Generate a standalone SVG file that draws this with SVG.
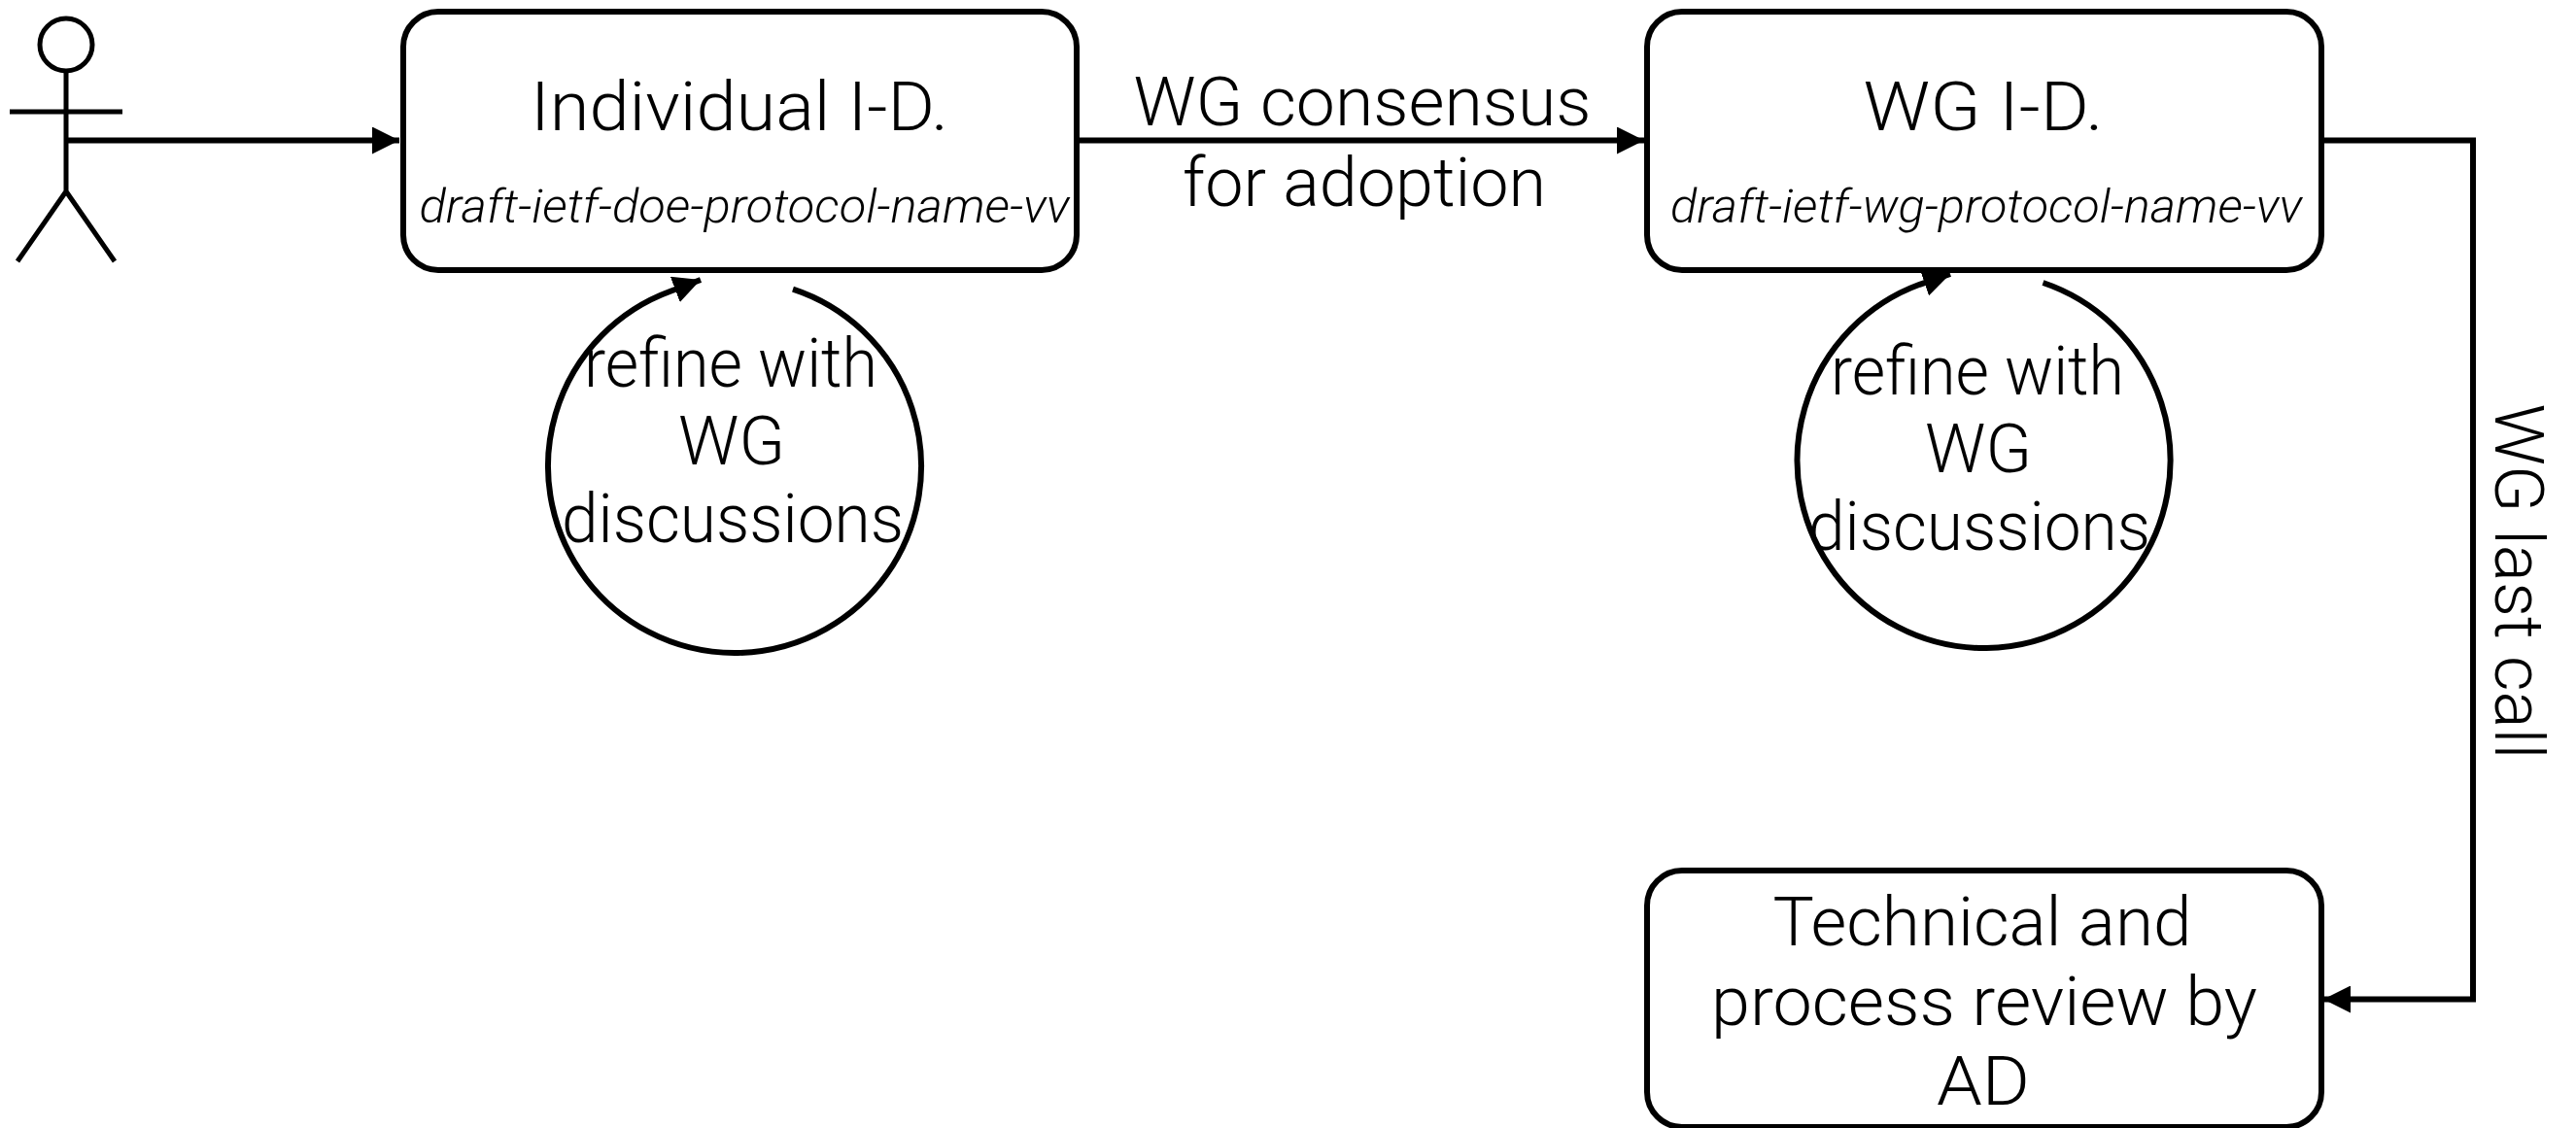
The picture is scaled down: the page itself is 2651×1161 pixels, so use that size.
<svg xmlns="http://www.w3.org/2000/svg" width="2651" height="1161" viewBox="0 0 2651 1161">
<style>
.n{fill:#fff;stroke:#000;stroke-width:6}
.c{fill:none;stroke:#000;stroke-width:6}
.a{fill:none;stroke:#000;stroke-width:5}
text{font-family:"Roboto","Liberation Sans",sans-serif;font-weight:300;fill:#000;text-anchor:middle}
.l{font-size:70px}
.d{font-size:48px;font-style:italic}
</style>
<defs>
<marker id="h" markerUnits="userSpaceOnUse" viewBox="0 0 28 28" markerWidth="28" markerHeight="28" refX="28" refY="14" orient="auto"><path d="M0 0L28 14L0 28Z" fill="#000"/></marker>
</defs>
<rect width="2651" height="1161" fill="#fff"/>
<g id="connectors">
<path class="c" d="M68 144.500H411" marker-end="url(#h)"/>
<path class="c" d="M1108 144.500H1692" marker-end="url(#h)"/>
<path class="c" d="M2389 144.500H2545V1028.500H2391" marker-end="url(#h)"/>
<path class="c" d="M816 297.600A192 192 0 1 1 690 299.700L721 288" marker-end="url(#h)"/>
<path class="c" d="M2102.500 291A192 193 0 1 1 1975.500 292.800L2007 282" marker-end="url(#h)"/>
</g>
<g id="actor"><ellipse class="a" cx="68" cy="46" rx="27" ry="27" fill="none"/><path class="a" d="M68 73V197M10 115H126M18 269L68 197L118 269"/></g>
<g id="individual-id"><rect class="n" x="415" y="12" width="693" height="266" rx="36"/>
<text class="l" x="761" y="134" textLength="430" lengthAdjust="spacingAndGlyphs">Individual I-D.</text>
<text class="d" x="766" y="229" textLength="669" lengthAdjust="spacingAndGlyphs">draft-ietf-doe-protocol-name-vv</text></g>
<g id="wg-id"><rect class="n" x="1695" y="12" width="694" height="266" rx="36"/>
<text class="l" x="2041" y="134" textLength="247" lengthAdjust="spacingAndGlyphs">WG I-D.</text>
<text class="d" x="2044" y="229" textLength="650" lengthAdjust="spacingAndGlyphs">draft-ietf-wg-protocol-name-vv</text></g>
<g id="review"><rect class="n" x="1695" y="896" width="694" height="264" rx="36"/>
<text class="l" x="2040" y="973" textLength="431" lengthAdjust="spacingAndGlyphs">Technical and</text>
<text class="l" x="2042" y="1055" textLength="562" lengthAdjust="spacingAndGlyphs">process review by</text>
<text class="l" x="2041" y="1137" textLength="96" lengthAdjust="spacingAndGlyphs">AD</text></g>
<g id="labels">
<text class="l" x="1402" y="129" textLength="471" lengthAdjust="spacingAndGlyphs">WG consensus</text>
<text class="l" x="1404" y="212" textLength="374" lengthAdjust="spacingAndGlyphs">for adoption</text>
<text class="l" x="752" y="398" textLength="302" lengthAdjust="spacingAndGlyphs">refine with</text>
<text class="l" x="753" y="478" textLength="110" lengthAdjust="spacingAndGlyphs">WG</text>
<text class="l" x="754" y="558" textLength="352" lengthAdjust="spacingAndGlyphs">discussions</text>
<text class="l" x="2035" y="406" textLength="302" lengthAdjust="spacingAndGlyphs">refine with</text>
<text class="l" x="2036" y="486" textLength="110" lengthAdjust="spacingAndGlyphs">WG</text>
<text class="l" x="2037" y="566" textLength="352" lengthAdjust="spacingAndGlyphs">discussions</text>
<text class="l" transform="translate(2568 598.500) rotate(90)" textLength="366" lengthAdjust="spacingAndGlyphs">WG last call</text>
</g>
</svg>
